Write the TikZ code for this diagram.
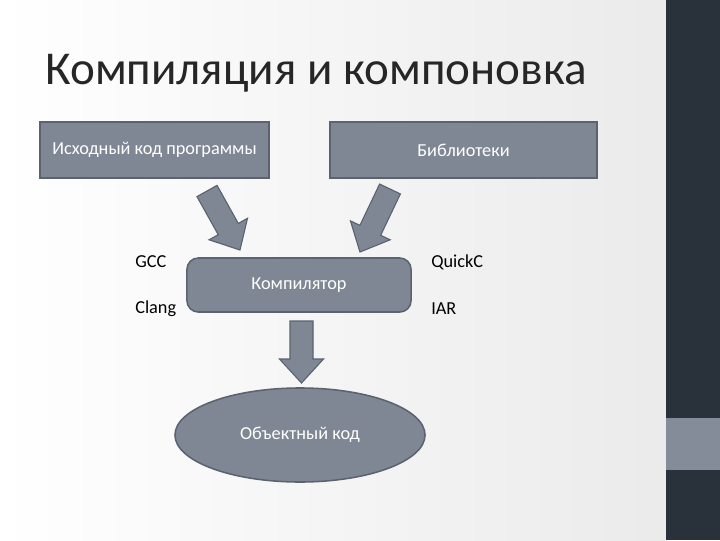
\documentclass[tikz,border=0pt]{standalone}
\usepackage{fontspec}
\setmainfont{Carlito}
\usetikzlibrary{shapes.geometric}

\definecolor{boxgray}{HTML}{7F8795}
\definecolor{boxline}{HTML}{5B636F}
\definecolor{slidedark}{HTML}{29323B}
\definecolor{slidegray}{HTML}{858C99}

\begin{document}
\begin{tikzpicture}[
    x=0.025cm, y=0.025cm,
    every node/.style={font=\rmfamily},
    stagebox/.style={rectangle, fill=boxgray, draw=boxline, line width=1.1pt,
        text=white, font=\fontsize{13}{15}\selectfont, inner sep=0pt},
    blockarrow/.style={fill=boxgray, draw=boxline, line width=0.8pt},
    toolname/.style={anchor=west, font=\fontsize{13}{15}\selectfont, inner sep=0pt},
]

% === Slide background ===
\useasboundingbox (0,0) rectangle (720,540);
\shade[left color=white, right color=gray!16] (0,0) rectangle (666,540);
\fill[slidedark] (666,0) rectangle (720,540);
\fill[slidegray] (666,70) rectangle (720,122);

% === Title ===
\node[anchor=base west, inner sep=0pt, font=\fontsize{33.5}{40}\selectfont, text=black!85]
    (title) at (45,455) {Компиляция и компоновка};

% === Inputs ===
\node[stagebox, minimum width=5.725cm, minimum height=1.4cm] (src) at (154.5,390)
    {Исходный код программы};
\node[stagebox, minimum width=6.675cm, minimum height=1.4cm] (libs) at (463.5,390)
    {Библиотеки};

% === Compiler ===
\node[stagebox, rounded corners=8pt, minimum width=5.6cm, minimum height=1.35cm] (comp)
    at (299,255) {Компилятор};
\node[toolname] (gcc) at (135,278) {GCC};
\node[toolname] (clang) at (135,231) {Clang};
\node[toolname] (quickc) at (431,278) {QuickC};
\node[toolname] (iar) at (431,231) {IAR};

% === Output ===
\node[ellipse, fill=boxgray, draw=boxline, line width=1.1pt, text=white,
    font=\fontsize{13}{15}\selectfont, minimum width=6.25cm, minimum height=2.35cm,
    inner sep=0pt] (obj) at (300,105) {Объектный код};

% === Block arrows (start x / start y / angle / length) ===
\foreach \sx/\sy/\ang/\len in {207/349/-60.8/67.6, 390/351/-115.5/69.8, 301.5/219/-90/62} {
    \begin{scope}[shift={(\sx,\sy)}, rotate=\ang]
        \filldraw[blockarrow] (0,-11.5) -- ({\len-24},-11.5) -- ({\len-24},-22)
            -- (\len,0) -- ({\len-24},22) -- ({\len-24},11.5) -- (0,11.5) -- cycle;
    \end{scope}
}

\end{tikzpicture}
\end{document}
